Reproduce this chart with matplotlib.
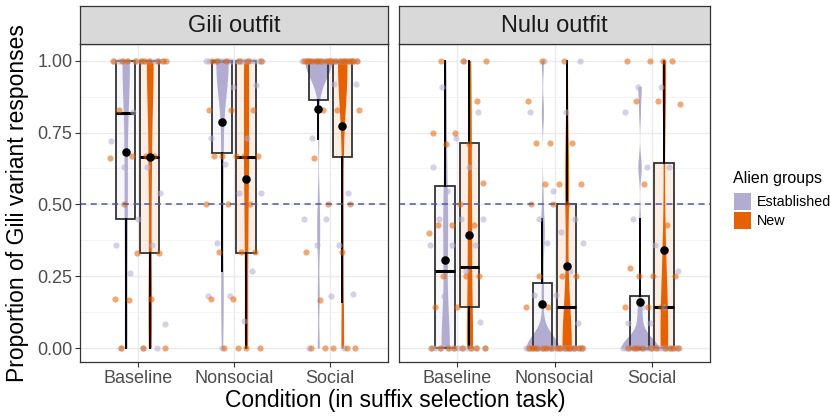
import numpy as np
import matplotlib
matplotlib.use("Agg")
import matplotlib.pyplot as plt
from matplotlib.patches import Rectangle

plt.rcParams['font.family'] = ['Liberation Sans', 'DejaVu Sans']

# ---------------- data ----------------
panels = ["Gili outfit", "Nulu outfit"]
conditions = ["Baseline", "Nonsocial", "Social"]
groups = ["Established", "New"]
group_colors = ["#b2abd2", "#e66101"]

# box statistics, indexed [panel][condition][group]
box_q1 = [[[0.45, 0.33], [0.678, 0.33], [0.862, 0.664]],
          [[0.0, 0.143], [0.0, 0.0], [0.0, 0.0]]]
box_med = [[[0.819, 0.664], [1.0, 0.664], [1.0, 1.0]],
           [[0.27, 0.282], [0.0, 0.143], [0.0, 0.143]]]
box_q3 = [[[1.0, 1.0], [1.0, 1.0], [1.0, 1.0]],
          [[0.565, 0.713], [0.228, 0.5], [0.18, 0.643]]]
whisk_lo = [[[0.0, 0.0], [0.27, 0.0], [0.728, 0.16]],
            [[0.0, 0.0], [0.0, 0.0], [0.0, 0.0]]]
whisk_hi = [[[1.0, 1.0], [1.0, 1.0], [1.0, 1.0]],
            [[1.0, 1.0], [0.45, 1.0], [0.45, 1.0]]]
group_means = [[[0.684, 0.664], [0.788, 0.587], [0.831, 0.772]],
               [[0.307, 0.394], [0.154, 0.287], [0.161, 0.342]]]

# participant proportions
gili_baseline_est = [1, 1, 1, 1, 1, 1, 1, 1, 1, 1, 1, 0.82, 0.72, 0.63, 0.63, 0.54, 0.45,
                     0.36, 0.36, 0.26, 0.085, 0, 0, 0]
gili_baseline_new = [1, 1, 1, 1, 1, 1, 1, 1, 1, 1, 0.83, 0.67, 0.67, 0.66, 0.67, 0.5,
                     0.33, 0.33, 0.17, 0.17, 0.166, 0, 0, 0]
gili_nonsocial_est = [1, 1, 1, 1, 1, 1, 1, 1, 1, 1, 1, 1, 1, 1, 1, 1, 1, 1, 0.915, 0.91,
                      0.73, 0.73, 0.64, 0.54, 0.54, 0.365, 0.27, 0.18, 0.18, 0.096, 0]
gili_nonsocial_new = [1, 1, 1, 1, 1, 1, 0.83, 0.83, 0.83, 0.67, 0.67, 0.67, 0.67, 0.67,
                      0.5, 0.5, 0.5, 0.336, 0.336, 0.336, 0.17, 0.17, 0, 0, 0, 0]
gili_social_est = [1, 1, 1, 1, 1, 1, 1, 1, 1, 1, 1, 1, 1, 1, 1, 1, 1, 1, 1, 1, 1, 1, 1,
                   1, 1, 1, 0.92, 0.92, 0.73, 0.54, 0.45, 0.45, 0.36, 0.36, 0.19, 0.18,
                   0, 0]
gili_social_new = [1, 1, 1, 1, 1, 1, 1, 1, 1, 1, 1, 1, 1, 1, 1, 1, 1, 1, 0.83, 0.83,
                   0.83, 0.66, 0.5, 0.5, 0.334, 0.334, 0.166, 0, 0, 0, 0, 0]
nulu_baseline_est = [1, 0.91, 0.82, 0.73, 0.63, 0.63, 0.545, 0.45, 0.45, 0.45, 0.36,
                     0.36, 0.36, 0.27, 0.18, 0.09, 0, 0, 0, 0, 0, 0, 0, 0, 0, 0, 0]
nulu_baseline_new = [1, 1, 1, 0.86, 0.75, 0.75, 0.71, 0.71, 0.576, 0.5, 0.43, 0.43, 0.43,
                     0.4, 0.25, 0.25, 0.25, 0.145, 0.145, 0, 0, 0, 0, 0, 0, 0, 0]
nulu_nonsocial_est = [0] * 31 + [0.087, 0.185, 0.185, 0.27, 0.365, 0.365, 0.405, 0.45,
                                 0.45, 0.545, 0.82, 0.82, 1, 1]
nulu_nonsocial_new = [0] * 15 + [0.143, 0.143, 0.25, 0.25, 0.25, 0.5, 0.5, 0.5, 0.57,
                                 0.57, 0.57, 0.715, 0.715, 0.715, 0.86, 1, 1]
nulu_social_est = [0] * 22 + [0.087, 0.087, 0.145, 0.145, 0.27, 0.36, 0.45, 0.63, 0.63,
                              0.82, 0.91, 0.91]
nulu_social_new = [0] * 10 + [0.143, 0.143, 0.143, 0.25, 0.25, 0.25, 0.28, 0.43, 0.57,
                              0.85, 0.86, 0.86, 1, 1, 1, 1]

points = [[[gili_baseline_est, gili_baseline_new],
           [gili_nonsocial_est, gili_nonsocial_new],
           [gili_social_est, gili_social_new]],
          [[nulu_baseline_est, nulu_baseline_new],
           [nulu_nonsocial_est, nulu_nonsocial_new],
           [nulu_social_est, nulu_social_new]]]

y_ticks = [0.0, 0.25, 0.5, 0.75, 1.0]
y_ticklabels = ["0.00", "0.25", "0.50", "0.75", "1.00"]
reference_line = 0.5

# ---------------- helpers ----------------
def bw_nrd0(x):
    x = np.asarray(x, float)
    hi = x.std(ddof=1)
    iqr = np.subtract(*np.percentile(x, [75, 25]))
    lo = min(hi, iqr / 1.34)
    if lo == 0:
        lo = hi if hi > 0 else 1.0
    return 0.9 * lo * len(x) ** -0.2


def kde(x, adjust=0.8):
    x = np.asarray(x, float)
    bw = bw_nrd0(x) * adjust
    grid = np.linspace(x.min(), x.max(), 400)
    d = np.exp(-0.5 * ((grid[:, None] - x[None, :]) / bw) ** 2).sum(1)
    d /= (len(x) * bw * np.sqrt(2 * np.pi))
    return grid, d


# ---------------- figure ----------------
W, H = 831, 417
fig = plt.figure(figsize=(W / 100, H / 100), dpi=100)

def fx(px):
    return px / W

def fy(py):
    return 1 - py / H

panel_px = [(80, 388), (399, 710)]
top_px, bot_px, strip_top = 44, 362, 6

dodge = 0.125
box_w = 0.2
max_half = 0.19
jit = 0.30
golden = 0.6180339887

densities = {}
gmax = 0
for p in range(2):
    for c in range(3):
        for g in range(2):
            gr, d = kde(points[p][c][g])
            densities[(p, c, g)] = (gr, d)
            gmax = max(gmax, d.max())
scale = max_half / gmax

for p in range(2):
    x0, x1 = panel_px[p]
    ax = fig.add_axes([fx(x0), fy(bot_px), fx(x1 - x0), (bot_px - top_px) / H])

    for c in range(3):
        for g in range(2):
            pos = c + 1 + (-dodge if g == 0 else dodge)
            col = group_colors[g]
            st = dict(med=box_med[p][c][g], q1=box_q1[p][c][g], q3=box_q3[p][c][g],
                      whislo=whisk_lo[p][c][g], whishi=whisk_hi[p][c][g], fliers=[])
            # box fill
            ax.bxp([st], positions=[pos], widths=box_w, patch_artist=True,
                   showfliers=False, showcaps=False, manage_ticks=False,
                   boxprops=dict(facecolor=matplotlib.colors.to_rgba(col, 0.1),
                                 edgecolor='none'),
                   medianprops=dict(lw=0), whiskerprops=dict(lw=0), zorder=1)
            # violin
            gr, d = densities[(p, c, g)]
            ax.fill_betweenx(gr, pos - d * scale, pos + d * scale, color=col, lw=0,
                             zorder=2)
            # box lines
            ax.bxp([st], positions=[pos], widths=box_w, patch_artist=True,
                   showfliers=False, showcaps=False, manage_ticks=False,
                   boxprops=dict(facecolor='none', edgecolor='#333333', lw=1.3),
                   medianprops=dict(color='black', lw=2.2, solid_capstyle='butt'),
                   whiskerprops=dict(color='black', lw=1.4), zorder=3)
        # jittered points
        for g in range(2):
            vals = np.asarray(points[p][c][g], float)
            n = len(vals)
            frac = ((np.arange(n) + 1) * golden + 0.37 * g + 0.13 * c) % 1.0
            xs = c + 1 + (frac - 0.5) * 2 * jit
            ax.scatter(xs, vals, s=20, color=group_colors[g], alpha=0.55, lw=0,
                       zorder=4)
        # means
        for g in range(2):
            pos = c + 1 + (-dodge if g == 0 else dodge)
            ax.scatter([pos], [group_means[p][c][g]], s=38, color='black', lw=0, zorder=6)
    ax.axhline(reference_line, color='#4A5AB0', lw=1.1, ls=(0, (4, 3)), zorder=5)

    ax.set_xlim(0.4, 3.6)
    ax.set_ylim(-0.048, 1.058)
    ax.set_yticks(y_ticks)
    ax.set_yticklabels(y_ticklabels)
    ax.set_yticks([0.125, 0.375, 0.625, 0.875], minor=True)
    ax.set_xticks([1, 2, 3])
    ax.set_xticklabels(conditions)
    ax.grid(which='major', color='#EBEBEB', lw=1.0)
    ax.grid(which='minor', axis='y', color='#F3F3F3', lw=0.6)
    ax.set_axisbelow(True)
    for s in ax.spines.values():
        s.set_color('#333333')
        s.set_linewidth(0.9)
        s.set_zorder(10)
    ax.tick_params(axis='both', which='major', length=3.5, width=0.8, color='#333333',
                   labelcolor='#4D4D4D', labelsize=13, pad=2)
    ax.tick_params(axis='y', which='minor', length=0)
    if p == 1:
        ax.tick_params(axis='y', left=False, labelleft=False)

    # strip
    sax = fig.add_axes([fx(x0), fy(top_px), fx(x1 - x0), (top_px - strip_top) / H])
    sax.set_facecolor('#D9D9D9')
    sax.set_xticks([])
    sax.set_yticks([])
    for s in sax.spines.values():
        s.set_color('#333333')
        s.set_linewidth(0.9)
    sax.text(0.5, 0.47, panels[p], ha='center', va='center', fontsize=17,
             color='#1A1A1A', transform=sax.transAxes)

# axis titles
fig.text(fx(18), fy((top_px + bot_px) / 2), "Proportion of Gili variant responses",
         rotation=90, ha='center', va='center', fontsize=16.5, color='black')
fig.text(fx(395), fy(401), "Condition (in suffix selection task)", ha='center',
         va='center', fontsize=16.5, color='black')

# legend
fig.text(fx(733), fy(178), "Alien groups", ha='left', va='center', fontsize=11.5,
         color='black')
for g in range(2):
    ytop = 193 + g * 19
    fig.patches.append(Rectangle((fx(734), fy(ytop + 17)), fx(17), 17 / H,
                                 transform=fig.transFigure, facecolor=group_colors[g],
                                 edgecolor='none'))
    fig.text(fx(757), fy(ytop + 9), groups[g], ha='left', va='center', fontsize=10.3,
             color='black')

fig.savefig("out.png", dpi=100)
